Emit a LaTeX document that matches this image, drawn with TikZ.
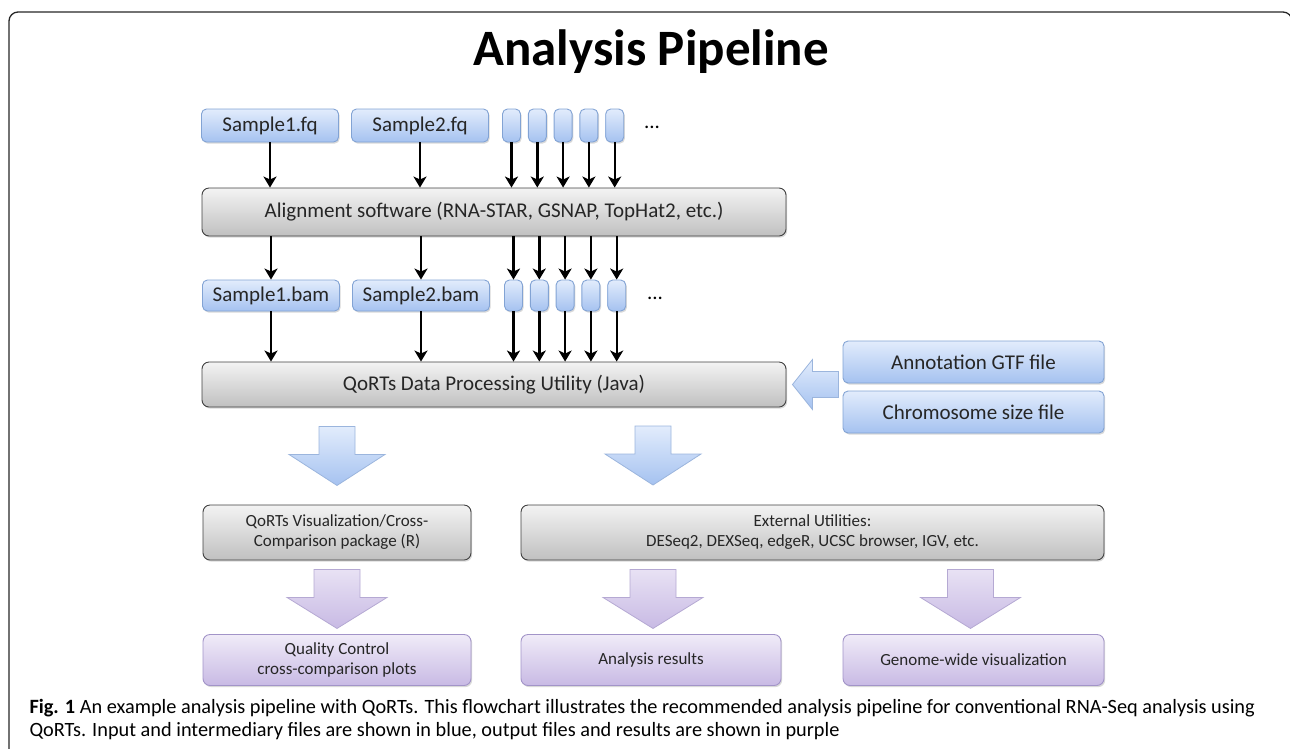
\documentclass[tikz,border=0pt]{standalone}
\usepackage{fontspec}
\setmainfont{Carlito}
\usetikzlibrary{arrows.meta,shadows,calc}

\definecolor{bluetop}{HTML}{E2ECFC}
\definecolor{bluebot}{HTML}{A5C2F0}
\definecolor{blueline}{HTML}{82A3D4}
\definecolor{graytop}{HTML}{F3F3F3}
\definecolor{graybot}{HTML}{C0C0C0}
\definecolor{grayline}{HTML}{404040}
\definecolor{purptop}{HTML}{F0EBF8}
\definecolor{purpbot}{HTML}{C8BAE4}
\definecolor{purpline}{HTML}{A294C8}

\tikzset{
  box/.style={rounded corners=5pt, draw, line width=0.9pt, inner sep=0pt, align=center,
    text=black!85, drop shadow={shadow xshift=1.2pt, shadow yshift=-1.6pt, opacity=0.3}},
  inbox/.style={box, draw=blueline, top color=bluetop, bottom color=bluebot,
    font=\fontsize{21}{25}\selectfont, minimum height=33pt},
  procbox/.style={box, draw=grayline, top color=graytop, bottom color=graybot, rounded corners=7pt},
  outbox/.style={box, draw=purpline, top color=purptop, bottom color=purpbot, rounded corners=7pt,
    font=\fontsize{17}{20}\selectfont, minimum height=51pt},
  flow/.style={-{Stealth[length=11pt,width=13pt,inset=3pt]}, line width=2.4pt, black},
  bluearrow/.style={draw=blueline!80, line width=0.8pt, top color=bluetop, bottom color=bluebot},
  purparrow/.style={draw=purpline!80, line width=0.8pt, top color=purptop!80!purpbot, bottom color=purpbot}
}

% block arrow pointing down: style, top centre, shaft half width, head half width
\newcommand{\blockdown}[4]{%
  \path[#1] (#2) ++(-#3,0) -- ++({2*#3},0) -- ++(0,28) -- ++({#4-#3},0)
    -- ++(-#4,31) -- ++(-#4,-31) -- ++({#4-#3},0) -- cycle;}

\begin{document}
\begin{tikzpicture}[x=1pt, y=-1pt]
    \useasboundingbox (0,0) rectangle (1290,748);
    % frame
    \draw[line width=1.3pt, black!85, rounded corners=9pt] (9,770) -- (9,12) -- (1292,12) -- (1292,770);
    % title
    \node[anchor=base, font=\bfseries\fontsize{51}{60}\selectfont] (title) at (651,65) {Analysis Pipeline};

    % input files
    \node[inbox, minimum width=137pt] (s1fq) at (270,125.5) {Sample1.fq};
    \node[inbox, minimum width=137pt] (s2fq) at (420,125.5) {Sample2.fq};
    \foreach \i in {1,...,5}
        \node[inbox, minimum width=18pt] (f\i) at ({485.7+25.8*\i},125.5) {};
    \node[font=\fontsize{21}{25}\selectfont] (dots1) at (652,127) {...};

    % aligner
    \node[procbox, minimum width=584pt, minimum height=48pt, font=\fontsize{21}{25}\selectfont]
        (align) at (494,212) {Alignment software (RNA-STAR, GSNAP, TopHat2, etc.)};

    % bam files
    \node[inbox, minimum width=137pt, minimum height=31pt] (s1bam) at (271,295.5) {Sample1.bam};
    \node[inbox, minimum width=137pt, minimum height=31pt] (s2bam) at (421,295.5) {Sample2.bam};
    \foreach \i in {1,...,5}
        \node[inbox, minimum width=18pt, minimum height=31pt] (b\i) at ({487.7+25.8*\i},295.5) {};
    \node[font=\fontsize{21}{25}\selectfont] (dots2) at (655,298) {...};

    % QoRTs
    \node[procbox, minimum width=584pt, minimum height=45pt, font=\fontsize{21}{25}\selectfont]
        (qorts) at (494,384.5) {QoRTs Data Processing Utility (Java)};
    \node[inbox, minimum width=261pt, minimum height=42pt] (annot) at (973.5,362) {Annotation GTF file};
    \node[inbox, minimum width=261pt, minimum height=42pt] (chrom) at (973.5,412) {Chromosome size file};

    % downstream tools
    \node[procbox, minimum width=268pt, minimum height=55pt, font=\fontsize{17}{20}\selectfont]
        (vis) at (337,532.5) {QoRTs Visualization/Cross-\\Comparison package (R)};
    \node[procbox, minimum width=583pt, minimum height=55pt, font=\fontsize{17}{20}\selectfont]
        (ext) at (812.5,532.5) {External Utilities:\\DESeq2, DEXSeq, edgeR, UCSC browser, IGV, etc.};

    % outputs
    \node[outbox, minimum width=268pt] (qc) at (337,660) {Quality Control\\cross-comparison plots};
    \node[outbox, minimum width=260pt] (res) at (651,660) {Analysis results};
    \node[outbox, minimum width=261pt] (gwv) at (973.5,660) {Genome-wide visualization};

    % thin arrows
    \draw[flow] (s1fq.south) -- (s1fq.south |- align.north);
    \draw[flow] (s2fq.south) -- (s2fq.south |- align.north);
    \draw[flow] (s1bam |- align.south) -- (s1bam.north);
    \draw[flow] (s2bam |- align.south) -- (s2bam.north);
    \draw[flow] (s1bam.south) -- (s1bam.south |- qorts.north);
    \draw[flow] (s2bam.south) -- (s2bam.south |- qorts.north);
    \foreach \i in {1,...,5} {
        \draw[flow] (f\i.south) -- (f\i.south |- align.north);
        \draw[flow] (b\i |- align.south) -- (b\i.north);
        \draw[flow] (b\i.south) -- (b\i.south |- qorts.north);
    }

    % block arrows
    \path[bluearrow] ($(qorts.east)+(6,0)$) -- ++(20,-25) -- ++(0,12) -- ++(26,0)
        -- ++(0,26) -- ++(-26,0) -- ++(0,12) -- cycle;
    \coordinate (d1) at ($(vis.north |- qorts.south)+(0,19)$);
    \coordinate (d2) at (653,426);
    \blockdown{bluearrow}{d1}{18}{48}
    \blockdown{bluearrow}{d2}{18}{48}
    \coordinate (p1) at ($(qc.north |- vis.south)+(0,9)$);
    \coordinate (p2) at ($(res.north |- vis.south)+(2,9)$);
    \coordinate (p3) at ($(gwv.north |- vis.south)+(-3,9)$);
    \blockdown{purparrow}{p1}{23}{50}
    \blockdown{purparrow}{p2}{23}{50}
    \blockdown{purparrow}{p3}{23}{50}

    % caption
    \node[anchor=base west, font=\fontsize{20.3}{24}\selectfont] (cap1) at (26,713)
        {\textbf{Fig. 1} An example analysis pipeline with QoRTs. This flowchart illustrates the recommended analysis pipeline for conventional RNA-Seq analysis using};
    \node[anchor=base west, font=\fontsize{20.3}{24}\selectfont] (cap2) at (26,736)
        {QoRTs. Input and intermediary files are shown in blue, output files and results are shown in purple};
\end{tikzpicture}
\end{document}
